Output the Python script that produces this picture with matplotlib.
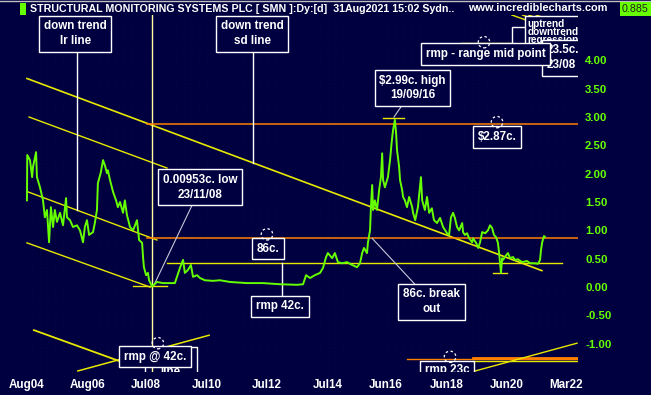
import matplotlib
matplotlib.use('Agg')
import matplotlib.pyplot as plt
from matplotlib.patches import Ellipse

# price (decimal year, $)
dates = [2004.58, 2004.59, 2004.68, 2004.75, 2004.78, 2004.88, 2004.91, 2005.01, 2005.11, 2005.17,
         2005.24, 2005.31, 2005.37, 2005.44, 2005.50, 2005.57, 2005.67, 2005.77, 2005.87, 2005.90,
         2006.00, 2006.10, 2006.23, 2006.33, 2006.43, 2006.49, 2006.56, 2006.63, 2006.76, 2006.82,
         2006.89, 2006.92, 2007.02, 2007.09, 2007.15, 2007.22, 2007.25, 2007.32, 2007.42, 2007.52,
         2007.58, 2007.65, 2007.75, 2007.81, 2007.88, 2007.98, 2008.08, 2008.21, 2008.28, 2008.38,
         2008.41, 2008.44, 2008.51, 2008.57, 2008.61, 2008.71, 2008.87, 2009.07, 2009.30, 2009.46,
         2009.53, 2009.63, 2009.73, 2009.79, 2009.89, 2009.99, 2010.06, 2010.19, 2010.29, 2010.45,
         2010.72, 2010.95, 2011.28, 2011.84, 2012.37, 2012.93, 2013.49, 2013.69, 2013.79, 2013.92,
         2014.08, 2014.25, 2014.35, 2014.45, 2014.51, 2014.65, 2014.74, 2014.84, 2014.98, 2015.14,
         2015.31, 2015.47, 2015.57, 2015.64, 2015.70, 2015.80, 2015.83, 2015.90, 2015.93, 2015.97,
         2016.00, 2016.06, 2016.13, 2016.20, 2016.26, 2016.30, 2016.33, 2016.39, 2016.46, 2016.49,
         2016.56, 2016.62, 2016.66, 2016.72, 2016.76, 2016.79, 2016.86, 2016.89, 2016.96, 2016.99,
         2017.05, 2017.12, 2017.19, 2017.29, 2017.32, 2017.39, 2017.48, 2017.58, 2017.62, 2017.71,
         2017.78, 2017.85, 2017.94, 2018.01, 2018.11, 2018.21, 2018.31, 2018.44, 2018.51, 2018.57,
         2018.64, 2018.70, 2018.77, 2018.84, 2018.94, 2018.97, 2019.03, 2019.10, 2019.17, 2019.27,
         2019.30, 2019.40, 2019.47, 2019.53, 2019.60, 2019.70, 2019.79, 2019.86, 2019.93, 2019.99,
         2020.06, 2020.12, 2020.16, 2020.19, 2020.22, 2020.26, 2020.29, 2020.39, 2020.45, 2020.52,
         2020.62, 2020.68, 2020.78, 2020.92, 2021.08, 2021.18, 2021.34, 2021.44, 2021.51, 2021.54,
         2021.58, 2021.64, 2021.67]
prices = [1.53, 2.33, 2.24, 1.94, 2.12, 2.38, 1.94, 1.76, 1.53, 1.23,
          1.36, 0.79, 1.41, 1.06, 1.36, 1.15, 1.31, 1.09, 1.57, 1.23,
          1.18, 1.06, 1.09, 1.00, 0.79, 1.06, 1.18, 0.92, 0.97, 1.13,
          1.36, 1.83, 2.03, 2.24, 2.15, 2.01, 2.06, 1.89, 1.68, 1.53,
          1.41, 1.50, 1.31, 1.53, 1.27, 1.06, 1.00, 1.18, 0.83, 0.78,
          0.53, 0.35, 0.21, 0.25, 0.12, 0.01, 0.09, 0.07, 0.07, 0.07,
          0.18, 0.34, 0.48, 0.25, 0.30, 0.39, 0.18, 0.21, 0.16, 0.12,
          0.11, 0.12, 0.09, 0.07, 0.07, 0.05, 0.04, 0.05, 0.21, 0.16,
          0.21, 0.25, 0.34, 0.53, 0.60, 0.51, 0.60, 0.44, 0.42, 0.44,
          0.39, 0.35, 0.42, 0.60, 0.69, 0.60, 0.78, 1.00, 1.41, 1.80,
          1.36, 1.53, 1.36, 1.71, 1.94, 2.36, 1.89, 1.76, 1.89, 1.94,
          2.24, 2.59, 2.77, 2.95, 2.72, 2.42, 2.12, 1.89, 1.71, 1.59,
          1.53, 1.41, 1.59, 1.41, 1.31, 1.18, 1.41, 1.94, 1.53, 1.36,
          1.59, 1.31, 1.39, 1.18, 1.13, 1.22, 1.06, 0.95, 0.92, 1.23,
          1.31, 1.22, 1.06, 1.00, 1.13, 0.97, 0.92, 0.95, 0.86, 0.79,
          0.86, 0.78, 0.69, 0.79, 0.97, 0.95, 1.00, 1.09, 1.04, 0.92,
          0.88, 0.78, 0.60, 0.42, 0.25, 0.51, 0.48, 0.56, 0.60, 0.51,
          0.53, 0.48, 0.49, 0.44, 0.46, 0.42, 0.42, 0.41, 0.48, 0.65,
          0.79, 0.90, 0.885]

# trend lines: (start date, start price, end date, end price)
sd_line = (2004.58, 3.68, 2021.57, 0.29)
lr_upper = (2004.65, 3.00, 2009.20, 2.10)
lr_mid = (2004.61, 1.68, 2008.87, 0.83)
lr_lower = (2004.58, 0.78, 2008.64, 0.00)
hi_level = 2.87
brk_level = 0.86
rmp_level = 0.42
low_price = 0.00953
high_price = 2.99
low_date = 2008.71
high_date = 2016.72

xtick_pos = [2004.58, 2006.58, 2008.50, 2010.50, 2012.50, 2014.50, 2016.42, 2018.42, 2020.42, 2022.38]
xtick_lab = ['Aug04', 'Aug06', 'Jul08', 'Jul10', 'Jul12', 'Jul14', 'Jun16', 'Jun18', 'Jun20', 'Mar22']
ytick_pos = [-1.0, -0.5, 0.0, 0.5, 1.0, 1.5, 2.0, 2.5, 3.0, 3.5, 4.0]

bg = '#000040'
green = '#66ff00'
yel = '#e8e800'
orange = '#ff8000'
plt.rcParams['font.family'] = ['Liberation Sans', 'DejaVu Sans']
plt.rcParams['font.weight'] = 'bold'
fs = 8.4

fig = plt.figure(figsize=(6.51, 3.95), dpi=100, facecolor=bg)
ax = fig.add_axes([0.003, 0.058, 0.885, 0.904], facecolor=bg)
ax.set_xlim(2003.755, 2022.765)
ax.set_ylim(-1.50, 4.80)
for s in ax.spines.values():
    s.set_visible(False)

# faint dotted background grid
for gx in range(0, 80):
    ax.axvline(2003.755 + gx * 0.25, color='#0a0a5a', lw=0.5, ls=(0, (1, 4)), zorder=0)

ax.yaxis.tick_right()
ax.set_yticks(ytick_pos)
ax.set_yticklabels(['%.2f' % v for v in ytick_pos])
ax.set_xticks(xtick_pos)
ax.set_xticklabels(xtick_lab)
ax.tick_params(axis='y', length=0, pad=5, labelsize=8.2, labelcolor=green)
ax.tick_params(axis='x', length=0, pad=5, labelsize=8.4, labelcolor='white')

def seg(l, **kw):
    ax.plot([l[0], l[2]], [l[1], l[3]], **kw)

# trend channel lines
seg(sd_line, color=yel, lw=1.2)
seg(lr_upper, color=yel, lw=1.0)
seg(lr_mid, color=yel, lw=1.0)
seg(lr_lower, color=yel, lw=1.0)

# vertical marker and level lines
ax.axvline(low_date, color='#ffffa0', lw=1.0)
ax.plot([2008.54, 2022.77], [hi_level, hi_level], color=orange, lw=1.1)
ax.plot([2008.54, 2022.77], [brk_level, brk_level], color=orange, lw=1.1)
ax.plot([2009.20, 2022.25], [rmp_level, rmp_level], color=yel, lw=1.0)
ax.plot([2008.08, 2009.20], [0.02, 0.02], color=yel, lw=1.0)
ax.plot([2016.33, 2017.02], [high_price, high_price], color=yel, lw=1.0)
ax.plot([2019.96, 2020.42], [0.25, 0.25], color=yel, lw=1.0)

# price
ax.plot(dates, prices, color=green, lw=1.4, zorder=5)

# leader lines
lead = '#c8c8d8'
ax.plot([2006.23, 2006.23], [4.20, 1.36], color='white', lw=1.0)
ax.plot([2012.04, 2012.04], [4.20, 2.19], color='white', lw=1.0)
ax.plot([2010.06, 2008.77], [1.48, 0.035], color=lead, lw=0.8)
ax.plot([2016.96, 2016.69], [3.21, 3.00], color=lead, lw=0.8)
ax.plot([2015.97, 2017.38], [0.86, 0.05], color=lead, lw=0.8)
ax.plot([2012.99, 2012.99], [rmp_level, -0.19], color='white', lw=1.0)

box = dict(boxstyle='square,pad=0.4', fc=bg, ec='white', lw=1.0)

def label(x, y, s, **kw):
    ax.text(x, y, s, color='white', fontsize=fs, ha='center', va='center',
            linespacing=1.3, bbox=box, zorder=8, clip_on=True, **kw)

label(2006.18, 4.47, 'down trend\nlr line')
label(2012.02, 4.47, 'down trend\nsd line')
label(2010.29, 1.76, '0.00953c. low\n23/11/08')
label(2012.52, 0.68, '86c.')
label(2012.93, -0.34, 'rmp 42c.')
label(2017.30, 3.51, '$2.99c. high\n19/09/16')
label(2020.09, 2.65, '$2.87c.')
label(2017.93, -0.26, '86c. break\nout')

# top right cluster (partly clipped)
ax.plot([2018.90, 2020.58], [4.30, 4.30], color=yel, lw=1.0)
ax.plot([2020.58, 2020.58, 2021.18], [4.30, 4.58, 4.58], color='white', lw=1.0)
for d0 in [0.0, 0.35, 0.55, 0.8]:
    ax.plot([2020.58 + d0, 2022.77], [4.80, 4.80 - (2.19 - d0) * 0.19], color=yel, lw=1.0)
ax.text(2021.10, 4.50, 'uptrend\ndowntrend\nregression', color='white', fontsize=7.2, ha='left',
        va='center', linespacing=0.75, bbox=dict(boxstyle='square,pad=0.3', fc=bg, ec='white', lw=1.0),
        zorder=8, clip_on=True)
ax.text(2021.72, 4.05, '23.5c.\n23/08', color='white', fontsize=fs, ha='left', va='center',
        linespacing=1.3, bbox=box, zorder=8, clip_on=True)
label(2019.71, 4.11, 'rmp - range mid point')

# bottom left cluster
ax.plot([2004.81, 2007.91], [-0.76, -1.36], color=yel, lw=1.3)
ax.plot([2006.26, 2010.59], [-1.48, -0.85], color=yel, lw=1.1)
ax.plot([2008.46, 2008.46, 2010.18, 2010.18], [-1.50, -1.05, -1.05, -1.50], color='white', lw=1.0)
ax.text(2009.32, -1.50, 'line', color='white', fontsize=fs, ha='center', va='center', clip_on=True)
label(2008.80, -1.23, 'rmp @ 42c.')

# bottom right cluster
ax.plot([2017.12, 2022.77], [-1.27, -1.27], color=orange, lw=1.0)
ax.plot([2019.30, 2022.77], [-1.26, -1.26], color=orange, lw=2.0)
ax.plot([2019.30, 2022.77], [-1.31, -1.31], color=yel, lw=1.0)
ax.plot([2019.37, 2022.73], [-1.48, -0.99], color=yel, lw=1.0)
ax.plot([2017.55, 2017.55, 2019.32, 2019.32], [-1.50, -1.31, -1.31, -1.50], color='white', lw=1.0)
ax.text(2018.45, -1.47, 'rmp 23c', color='white', fontsize=fs, ha='center', va='center', clip_on=True)

# dashed marker circles
for cx, cy in [(2012.50, 0.93), (2020.09, 2.91), (2019.66, 4.32), (2008.90, -0.99), (2018.54, -1.23)]:
    ax.add_patch(Ellipse((cx, cy), 0.38, 0.2, fill=False, ec='white', lw=0.9, ls=(0, (2, 2)), zorder=9))

# header
fig.patches.append(plt.Rectangle((20 / 651, 1 - 15 / 395), 6 / 651, 12 / 395, transform=fig.transFigure,
                                 fc=green, ec='none'))
fig.text(30 / 651, 1 - 9 / 395, 'STRUCTURAL MONITORING SYSTEMS PLC [ SMN ]:Dy:[d]  31Aug2021 15:02 Sydn..',
         color='white', fontsize=7.7, va='center', ha='left')
fig.text(468 / 651, 1 - 8 / 395, 'www.incrediblecharts.com', color='white', fontsize=7.9, va='center', ha='left')
fig.text(622 / 651, 1 - 9 / 395, '0.885', color='#202020', fontsize=7.7, va='center', ha='left',
         fontweight='normal', bbox=dict(boxstyle='square,pad=0.2', fc=green, ec='none'))
fig.add_artist(plt.Line2D([0, 1], [0.998, 0.998], color='#c0c0c0', lw=1.0))

fig.savefig('out.png', dpi=100, facecolor=bg)
